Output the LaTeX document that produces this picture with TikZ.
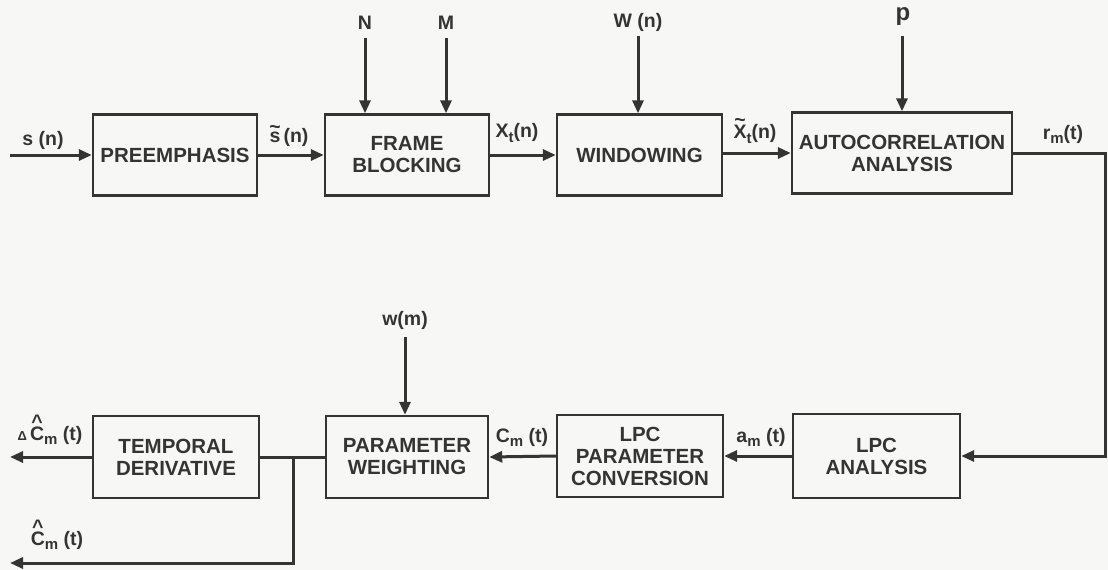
\documentclass[tikz,border=0pt]{standalone}
\usepackage{fontspec}
\setmainfont{Liberation Sans}
\usetikzlibrary{arrows.meta}
\newcommand{\mysub}[1]{\raisebox{-0.4ex}{\fontsize{15}{15}\selectfont #1}}
\newcommand{\hatC}{\makebox[0pt][l]{\makebox[0.72em]{\raisebox{0.62em}{\textasciicircum}}}C}
\newcommand{\tilS}{\makebox[0pt][l]{\makebox[0.56em]{\raisebox{0.42em}{\textasciitilde}}}s}
\newcommand{\tilX}{\makebox[0pt][l]{\makebox[0.67em]{\raisebox{0.62em}{\textasciitilde}}}X}
\definecolor{ink}{RGB}{52,52,52}
\definecolor{paper}{RGB}{247,247,245}
\begin{document}
\begin{tikzpicture}[x=1pt,y=-1pt,
  blk/.style={draw=ink, line width=2.4pt, inner sep=0pt, align=center,
    font=\fontsize{20.5}{22}\selectfont\bfseries, text=ink},
  lbl/.style={inner sep=0pt, font=\fontsize{19.5}{21}\selectfont\bfseries, text=ink},
  arr/.style={draw=ink, line width=3pt, -{Triangle[length=13pt,width=11pt]}},
  wire/.style={draw=ink, line width=3pt}]
\fill[paper] (0,0) rectangle (1108,570);
\useasboundingbox (0,0) rectangle (1108,570);

% top row
\node[blk, minimum width=164pt, minimum height=81pt] (pre) at (175,155) {PREEMPHASIS};
\node[blk, minimum width=164pt, minimum height=81pt] (frame) at (407,155) {FRAME\\BLOCKING};
\node[blk, minimum width=165pt, minimum height=81pt] (win) at (639.5,155) {WINDOWING};
\node[blk, minimum width=220pt, minimum height=81pt] (auto) at (902,153) {AUTOCORRELATION\\ANALYSIS};
% bottom row
\node[blk, minimum width=166pt, minimum height=82pt] (temp) at (176,457) {TEMPORAL\\DERIVATIVE};
\node[blk, minimum width=162pt, minimum height=82pt] (pw) at (407,457) {PARAMETER\\WEIGHTING};
\node[blk, minimum width=166pt, minimum height=82pt] (lpcc) at (640,456) {LPC\\PARAMETER\\CONVERSION};
\node[blk, minimum width=167pt, minimum height=84pt] (lpca) at (876.5,456) {LPC\\ANALYSIS};

% coordinates
\coordinate (sin) at (10,155);
\coordinate (rc) at (1105,456);
\coordinate (br) at (293,457);
\coordinate (dout) at (10,457);
\coordinate (cout) at (10,563);
\coordinate (Ntop) at (365,38);
\coordinate (Mtop) at (446,38);
\coordinate (Wtop) at (638,36);
\coordinate (ptop) at (902,36);
\coordinate (wmtop) at (405,337);

% connectors
\draw[arr] (sin) -- (pre.west);
\draw[arr] (pre.east) -- (frame.west);
\draw[arr] (frame.east) -- (win.west);
\draw[arr] (win.east |- auto.west) -- (auto.west);
\draw[arr] (auto.east) -| (rc) -- (lpca.east);
\draw[arr] (lpca.west) -- (lpcc.east);
\draw[arr] (lpcc.west) -- (pw.west -| pw.east);
\draw[wire] (pw.west) -- (temp.east);
\draw[arr] (temp.west) -- (dout);
\draw[arr] (br) |- (cout);
\draw[arr] (Ntop) -- (Ntop |- frame.north);
\draw[arr] (Mtop) -- (Mtop |- frame.north);
\draw[arr] (Wtop) -- (Wtop |- win.north);
\draw[arr] (ptop) -- (ptop |- auto.north);
\draw[arr] (wmtop) -- (wmtop |- pw.north);

% labels
\node[lbl] (lN) at (365,23) {N};
\node[lbl] (lM) at (446,23) {M};
\node[lbl] (lW) at (638,22) {W (n)};
\node[lbl, font=\fontsize{24}{26}\selectfont\bfseries] (lp) at (903,17) {p};
\node[lbl] (lwm) at (405,320) {w(m)};
\node[lbl] (lsn) at (43,140) {s (n)};
\node[lbl] (lsn2) at (289,136) {\tilS\,(n)};
\node[lbl] (lxt) at (517,133) {X\mysub{t}(n)};
\node[lbl] (lxt2) at (755,131) {\tilX\mysub{t}(n)};
\node[lbl] (lrm) at (1063,134) {r\mysub{m}(t)};
\node[lbl] (lam) at (761,437) {a\mysub{m} (t)};
\node[lbl] (lcm) at (522,437) {C\mysub{m} (t)};
\node[lbl] (ldc) at (50,430) {{\fontsize{13}{13}\selectfont Δ}\,\hatC\mysub{m} (t)};
\node[lbl] (lc) at (57,535) {\hatC\mysub{m} (t)};
\end{tikzpicture}
\end{document}
